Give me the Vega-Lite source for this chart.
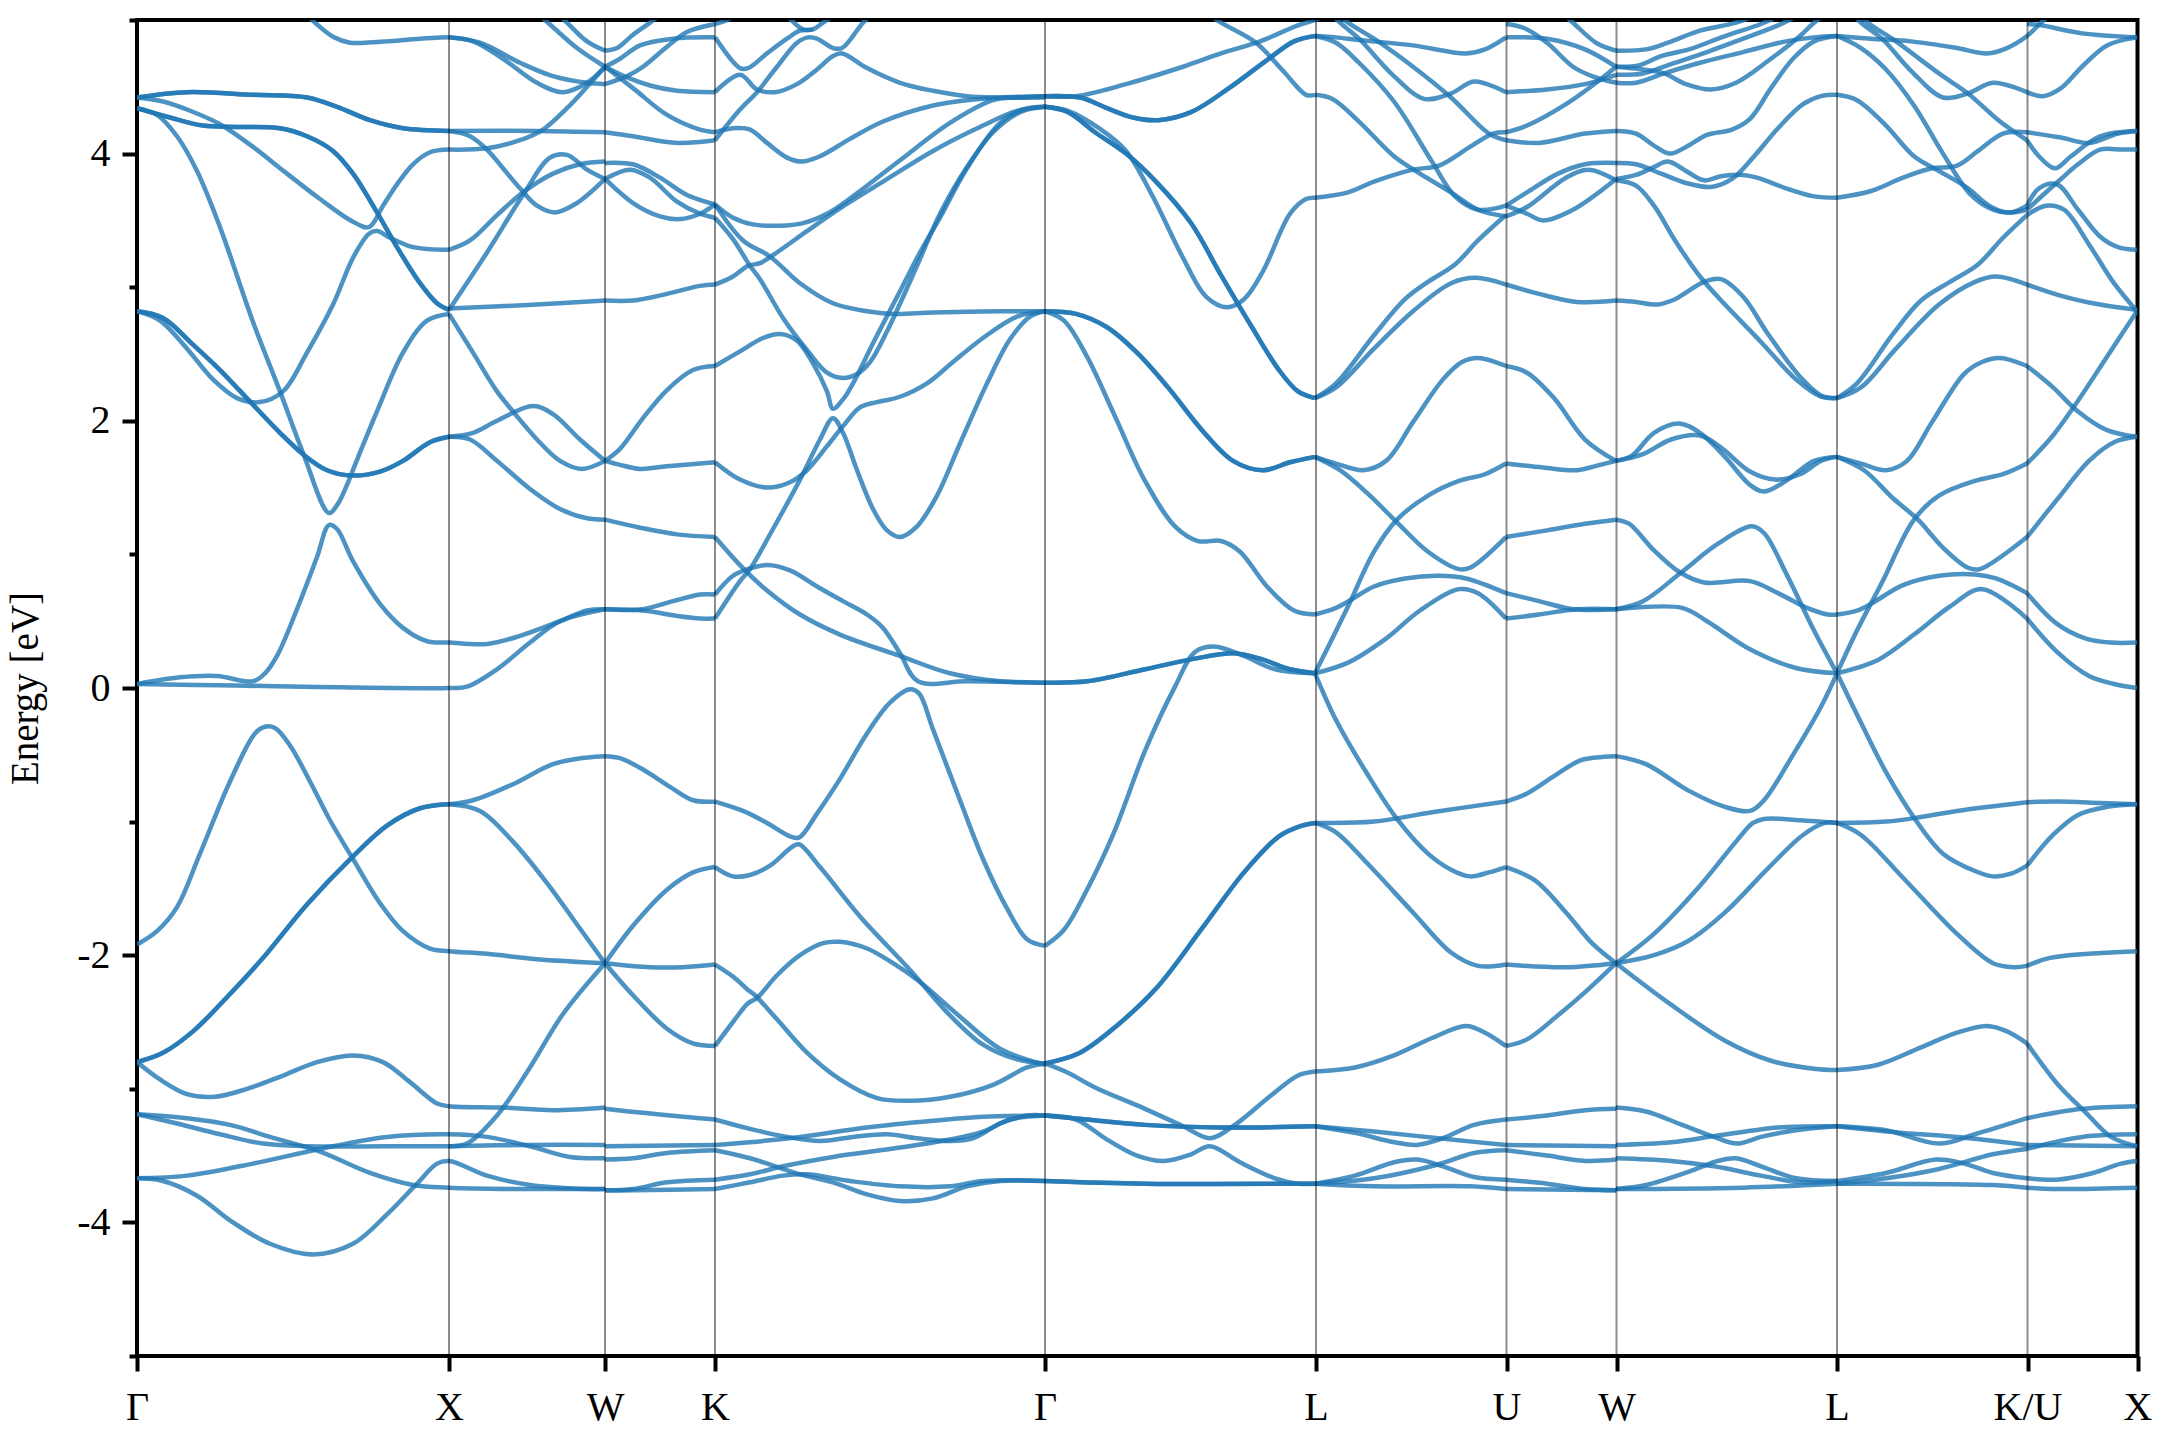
{"$schema":"https://vega.github.io/schema/vega-lite/v6.json","width":2000.5,"height":1336,"autosize":"none","padding":{"left":137,"top":20,"right":22,"bottom":84},"background":"white","config":{"view":{"stroke":"#000","strokeWidth":4},"font":"Liberation Serif"},
"layer":[{"data":{"values":[
{"b":1,"k":170,"e":5.04},{"b":1,"k":178,"e":4.98},{"b":1,"k":196,"e":4.875},{"b":1,"k":213,"e":4.83},{"b":1,"k":228,"e":4.83},{"b":1,"k":250,"e":4.84},{"b":1,"k":283,"e":4.86},{"b":1,"k":312,"e":4.87},
{"b":2,"k":312,"e":4.87},{"b":2,"k":336,"e":4.84},{"b":2,"k":366,"e":4.71},{"b":2,"k":400,"e":4.53},{"b":2,"k":426,"e":4.46},{"b":2,"k":450,"e":4.53},{"b":2,"k":468,"e":4.65},
{"b":3,"k":312,"e":4.87},{"b":3,"k":343,"e":4.83},{"b":3,"k":383,"e":4.68},{"b":3,"k":416,"e":4.58},{"b":3,"k":450,"e":4.53},{"b":3,"k":468,"e":4.52},
{"b":4,"k":420,"e":5.05},{"b":4,"k":430,"e":4.98},{"b":4,"k":450,"e":4.84},{"b":4,"k":468,"e":4.77},
{"b":5,"k":400,"e":5.05},{"b":5,"k":411,"e":4.98},{"b":5,"k":440,"e":4.79},{"b":5,"k":468,"e":4.65},
{"b":6,"k":0,"e":4.42},{"b":6,"k":50,"e":4.46},{"b":6,"k":116,"e":4.44},{"b":6,"k":170,"e":4.42},{"b":6,"k":200,"e":4.35},{"b":6,"k":233,"e":4.25},{"b":6,"k":266,"e":4.19},{"b":6,"k":312,"e":4.17},
{"b":7,"k":0,"e":4.42},{"b":7,"k":50,"e":4.46},{"b":7,"k":116,"e":4.44},{"b":7,"k":170,"e":4.42},{"b":7,"k":200,"e":4.35},{"b":7,"k":233,"e":4.25},{"b":7,"k":266,"e":4.19},{"b":7,"k":312,"e":4.17},
{"b":8,"k":312,"e":4.17},{"b":8,"k":400,"e":4.17},{"b":8,"k":468,"e":4.16},
{"b":9,"k":312,"e":4.17},{"b":9,"k":333,"e":4.13},{"b":9,"k":350,"e":4.03},{"b":9,"k":366,"e":3.89},{"b":9,"k":383,"e":3.74},{"b":9,"k":400,"e":3.61},{"b":9,"k":418,"e":3.56},{"b":9,"k":440,"e":3.63},{"b":9,"k":468,"e":3.81},
{"b":10,"k":0,"e":4.34},{"b":10,"k":33,"e":4.27},{"b":10,"k":66,"e":4.21},{"b":10,"k":100,"e":4.2},{"b":10,"k":143,"e":4.19},{"b":10,"k":170,"e":4.13},{"b":10,"k":196,"e":4.02},{"b":10,"k":216,"e":3.85},{"b":10,"k":240,"e":3.56},{"b":10,"k":260,"e":3.3},{"b":10,"k":283,"e":3.03},{"b":10,"k":300,"e":2.88},{"b":10,"k":312,"e":2.83},
{"b":11,"k":0,"e":4.34},{"b":11,"k":33,"e":4.27},{"b":11,"k":66,"e":4.21},{"b":11,"k":100,"e":4.2},{"b":11,"k":143,"e":4.19},{"b":11,"k":170,"e":4.13},{"b":11,"k":196,"e":4.02},{"b":11,"k":216,"e":3.85},{"b":11,"k":240,"e":3.56},{"b":11,"k":260,"e":3.3},{"b":11,"k":283,"e":3.03},{"b":11,"k":300,"e":2.88},{"b":11,"k":312,"e":2.83},
{"b":12,"k":0,"e":4.42},{"b":12,"k":26,"e":4.39},{"b":12,"k":50,"e":4.33},{"b":12,"k":83,"e":4.22},{"b":12,"k":116,"e":4.05},{"b":12,"k":150,"e":3.85},{"b":12,"k":183,"e":3.66},{"b":12,"k":216,"e":3.49},{"b":12,"k":232,"e":3.45},{"b":12,"k":246,"e":3.61},{"b":12,"k":260,"e":3.77},{"b":12,"k":276,"e":3.92},{"b":12,"k":293,"e":4.01},{"b":12,"k":312,"e":4.03},
{"b":13,"k":312,"e":4.03},{"b":13,"k":350,"e":4.04},{"b":13,"k":383,"e":4.1},{"b":13,"k":406,"e":4.18},{"b":13,"k":430,"e":4.34},{"b":13,"k":450,"e":4.5},{"b":13,"k":468,"e":4.65},
{"b":14,"k":0,"e":4.34},{"b":14,"k":20,"e":4.29},{"b":14,"k":40,"e":4.13},{"b":14,"k":60,"e":3.87},{"b":14,"k":83,"e":3.45},{"b":14,"k":116,"e":2.74},{"b":14,"k":143,"e":2.22},{"b":14,"k":166,"e":1.76},{"b":14,"k":192,"e":1.31},{"b":14,"k":201,"e":1.38},{"b":14,"k":210,"e":1.52},{"b":14,"k":218,"e":1.67},{"b":14,"k":240,"e":2.07},{"b":14,"k":266,"e":2.51},{"b":14,"k":290,"e":2.75},{"b":14,"k":312,"e":2.8},
{"b":15,"k":0,"e":2.82},{"b":15,"k":23,"e":2.75},{"b":15,"k":50,"e":2.54},{"b":15,"k":76,"e":2.31},{"b":15,"k":100,"e":2.17},{"b":15,"k":123,"e":2.14},{"b":15,"k":146,"e":2.22},{"b":15,"k":170,"e":2.51},{"b":15,"k":196,"e":2.87},{"b":15,"k":216,"e":3.22},{"b":15,"k":232,"e":3.4},{"b":15,"k":240,"e":3.42},{"b":15,"k":253,"e":3.37},{"b":15,"k":276,"e":3.3},{"b":15,"k":312,"e":3.28},
{"b":16,"k":312,"e":3.28},{"b":16,"k":333,"e":3.35},{"b":16,"k":360,"e":3.54},{"b":16,"k":386,"e":3.71},{"b":16,"k":416,"e":3.85},{"b":16,"k":443,"e":3.92},{"b":16,"k":468,"e":3.94},
{"b":17,"k":0,"e":2.82},{"b":17,"k":26,"e":2.77},{"b":17,"k":56,"e":2.57},{"b":17,"k":83,"e":2.38},{"b":17,"k":116,"e":2.12},{"b":17,"k":143,"e":1.91},{"b":17,"k":166,"e":1.75},{"b":17,"k":190,"e":1.63},{"b":17,"k":216,"e":1.59},{"b":17,"k":243,"e":1.62},{"b":17,"k":266,"e":1.7},{"b":17,"k":293,"e":1.84},{"b":17,"k":312,"e":1.88},
{"b":18,"k":0,"e":2.82},{"b":18,"k":26,"e":2.77},{"b":18,"k":56,"e":2.57},{"b":18,"k":83,"e":2.38},{"b":18,"k":116,"e":2.12},{"b":18,"k":143,"e":1.91},{"b":18,"k":166,"e":1.75},{"b":18,"k":190,"e":1.63},{"b":18,"k":216,"e":1.59},{"b":18,"k":243,"e":1.62},{"b":18,"k":266,"e":1.7},{"b":18,"k":293,"e":1.84},{"b":18,"k":312,"e":1.88},
{"b":19,"k":312,"e":2.83},{"b":19,"k":350,"e":3.26},{"b":19,"k":386,"e":3.69},{"b":19,"k":413,"e":3.97},{"b":19,"k":430,"e":3.99},{"b":19,"k":450,"e":3.88},{"b":19,"k":468,"e":3.81},
{"b":20,"k":312,"e":2.84},{"b":20,"k":400,"e":2.87},{"b":20,"k":468,"e":2.9},
{"b":21,"k":312,"e":1.88},{"b":21,"k":336,"e":1.91},{"b":21,"k":360,"e":2},{"b":21,"k":396,"e":2.11},{"b":21,"k":416,"e":2.05},{"b":21,"k":443,"e":1.86},{"b":21,"k":468,"e":1.7},
{"b":22,"k":312,"e":1.88},{"b":22,"k":333,"e":1.86},{"b":22,"k":360,"e":1.7},{"b":22,"k":393,"e":1.49},{"b":22,"k":423,"e":1.34},{"b":22,"k":450,"e":1.27},{"b":22,"k":468,"e":1.26},
{"b":23,"k":312,"e":2.8},{"b":23,"k":336,"e":2.51},{"b":23,"k":360,"e":2.22},{"b":23,"k":376,"e":2.07},{"b":23,"k":400,"e":1.86},{"b":23,"k":423,"e":1.7},{"b":23,"k":445,"e":1.64},{"b":23,"k":468,"e":1.7},
{"b":24,"k":0,"e":0.03},{"b":24,"k":43,"e":0.08},{"b":24,"k":80,"e":0.09},{"b":24,"k":116,"e":0.05},{"b":24,"k":128,"e":0.11},{"b":24,"k":140,"e":0.24},{"b":24,"k":160,"e":0.59},{"b":24,"k":180,"e":0.98},{"b":24,"k":192,"e":1.22},{"b":24,"k":200,"e":1.19},{"b":24,"k":216,"e":0.95},{"b":24,"k":243,"e":0.63},{"b":24,"k":266,"e":0.45},{"b":24,"k":290,"e":0.35},{"b":24,"k":312,"e":0.34},{"b":24,"k":350,"e":0.33},{"b":24,"k":383,"e":0.39},{"b":24,"k":423,"e":0.5},{"b":24,"k":450,"e":0.58},{"b":24,"k":468,"e":0.59},
{"b":25,"k":0,"e":0.03},{"b":25,"k":83,"e":0.02},{"b":25,"k":312,"e":0},{"b":25,"k":330,"e":0.01},{"b":25,"k":360,"e":0.14},{"b":25,"k":393,"e":0.34},{"b":25,"k":423,"e":0.5},{"b":25,"k":468,"e":0.59},
{"b":26,"k":0,"e":-1.92},{"b":26,"k":20,"e":-1.82},{"b":26,"k":40,"e":-1.64},{"b":26,"k":63,"e":-1.24},{"b":26,"k":93,"e":-0.7},{"b":26,"k":118,"e":-0.34},{"b":26,"k":128,"e":-0.29},{"b":26,"k":138,"e":-0.3},{"b":26,"k":153,"e":-0.43},{"b":26,"k":173,"e":-0.7},{"b":26,"k":193,"e":-0.99},{"b":26,"k":216,"e":-1.28},{"b":26,"k":243,"e":-1.61},{"b":26,"k":266,"e":-1.82},{"b":26,"k":293,"e":-1.95},{"b":26,"k":312,"e":-1.97},{"b":26,"k":350,"e":-1.99},{"b":26,"k":400,"e":-2.03},{"b":26,"k":468,"e":-2.06},
{"b":27,"k":0,"e":-2.8},{"b":27,"k":26,"e":-2.73},{"b":27,"k":56,"e":-2.57},{"b":27,"k":93,"e":-2.29},{"b":27,"k":126,"e":-2.02},{"b":27,"k":170,"e":-1.62},{"b":27,"k":216,"e":-1.26},{"b":27,"k":250,"e":-1.03},{"b":27,"k":283,"e":-0.9},{"b":27,"k":312,"e":-0.87},
{"b":28,"k":0,"e":-2.8},{"b":28,"k":26,"e":-2.73},{"b":28,"k":56,"e":-2.57},{"b":28,"k":93,"e":-2.29},{"b":28,"k":126,"e":-2.02},{"b":28,"k":170,"e":-1.62},{"b":28,"k":216,"e":-1.26},{"b":28,"k":250,"e":-1.03},{"b":28,"k":283,"e":-0.9},{"b":28,"k":312,"e":-0.87},
{"b":29,"k":312,"e":-0.87},{"b":29,"k":336,"e":-0.84},{"b":29,"k":376,"e":-0.72},{"b":29,"k":416,"e":-0.57},{"b":29,"k":450,"e":-0.52},{"b":29,"k":468,"e":-0.51},
{"b":30,"k":312,"e":-0.87},{"b":30,"k":343,"e":-0.92},{"b":30,"k":376,"e":-1.15},{"b":30,"k":410,"e":-1.46},{"b":30,"k":440,"e":-1.77},{"b":30,"k":468,"e":-2.06},
{"b":31,"k":0,"e":-2.8},{"b":31,"k":23,"e":-2.93},{"b":31,"k":50,"e":-3.04},{"b":31,"k":78,"e":-3.06},{"b":31,"k":110,"e":-3},{"b":31,"k":143,"e":-2.91},{"b":31,"k":180,"e":-2.8},{"b":31,"k":216,"e":-2.75},{"b":31,"k":246,"e":-2.8},{"b":31,"k":273,"e":-2.95},{"b":31,"k":300,"e":-3.11},{"b":31,"k":312,"e":-3.13},{"b":31,"k":366,"e":-3.14},{"b":31,"k":416,"e":-3.16},{"b":31,"k":468,"e":-3.14},
{"b":32,"k":0,"e":-3.19},{"b":32,"k":50,"e":-3.22},{"b":32,"k":93,"e":-3.27},{"b":32,"k":133,"e":-3.36},{"b":32,"k":183,"e":-3.47},{"b":32,"k":233,"e":-3.63},{"b":32,"k":276,"e":-3.72},{"b":32,"k":312,"e":-3.74},{"b":32,"k":383,"e":-3.75},{"b":32,"k":468,"e":-3.75},
{"b":33,"k":0,"e":-3.19},{"b":33,"k":40,"e":-3.26},{"b":33,"k":83,"e":-3.34},{"b":33,"k":126,"e":-3.41},{"b":33,"k":170,"e":-3.43},{"b":33,"k":250,"e":-3.43},{"b":33,"k":312,"e":-3.43},
{"b":34,"k":312,"e":-3.43},{"b":34,"k":330,"e":-3.41},{"b":34,"k":360,"e":-3.2},{"b":34,"k":393,"e":-2.84},{"b":34,"k":426,"e":-2.44},{"b":34,"k":468,"e":-2.06},
{"b":35,"k":312,"e":-3.43},{"b":35,"k":393,"e":-3.42},{"b":35,"k":468,"e":-3.42},
{"b":36,"k":0,"e":-3.67},{"b":36,"k":50,"e":-3.65},{"b":36,"k":116,"e":-3.56},{"b":36,"k":183,"e":-3.45},{"b":36,"k":250,"e":-3.36},{"b":36,"k":312,"e":-3.34},{"b":36,"k":350,"e":-3.36},{"b":36,"k":393,"e":-3.43},{"b":36,"k":433,"e":-3.51},{"b":36,"k":468,"e":-3.52},
{"b":37,"k":0,"e":-3.67},{"b":37,"k":26,"e":-3.69},{"b":37,"k":60,"e":-3.8},{"b":37,"k":96,"e":-4},{"b":37,"k":133,"e":-4.16},{"b":37,"k":176,"e":-4.24},{"b":37,"k":216,"e":-4.16},{"b":37,"k":250,"e":-3.94},{"b":37,"k":280,"e":-3.71},{"b":37,"k":300,"e":-3.56},{"b":37,"k":312,"e":-3.54},{"b":37,"k":350,"e":-3.65},{"b":37,"k":393,"e":-3.72},{"b":37,"k":450,"e":-3.75},{"b":37,"k":468,"e":-3.75},
{"b":38,"k":468,"e":4.77},{"b":38,"k":480,"e":4.79},{"b":38,"k":496,"e":4.89},{"b":38,"k":513,"e":4.98},{"b":38,"k":525,"e":5.05},
{"b":39,"k":468,"e":4.65},{"b":39,"k":483,"e":4.71},{"b":39,"k":503,"e":4.81},{"b":39,"k":536,"e":4.86},{"b":39,"k":578,"e":4.87},
{"b":40,"k":468,"e":4.52},{"b":40,"k":490,"e":4.58},{"b":40,"k":506,"e":4.65},{"b":40,"k":530,"e":4.8},{"b":40,"k":550,"e":4.91},{"b":40,"k":578,"e":4.97},
{"b":41,"k":468,"e":4.65},{"b":41,"k":490,"e":4.57},{"b":41,"k":513,"e":4.51},{"b":41,"k":540,"e":4.47},{"b":41,"k":578,"e":4.46},
{"b":42,"k":468,"e":4.65},{"b":42,"k":496,"e":4.49},{"b":42,"k":530,"e":4.29},{"b":42,"k":563,"e":4.18},{"b":42,"k":578,"e":4.16},
{"b":43,"k":468,"e":4.16},{"b":43,"k":496,"e":4.13},{"b":43,"k":540,"e":4.08},{"b":43,"k":578,"e":4.1},
{"b":44,"k":468,"e":3.93},{"b":44,"k":496,"e":3.92},{"b":44,"k":523,"e":3.82},{"b":44,"k":550,"e":3.69},{"b":44,"k":578,"e":3.62},
{"b":45,"k":468,"e":3.81},{"b":45,"k":493,"e":3.88},{"b":45,"k":513,"e":3.82},{"b":45,"k":540,"e":3.64},{"b":45,"k":563,"e":3.55},{"b":45,"k":578,"e":3.52},
{"b":46,"k":468,"e":3.81},{"b":46,"k":496,"e":3.63},{"b":46,"k":523,"e":3.53},{"b":46,"k":543,"e":3.51},{"b":46,"k":563,"e":3.55},{"b":46,"k":578,"e":3.62},
{"b":47,"k":468,"e":2.9},{"b":47,"k":496,"e":2.9},{"b":47,"k":530,"e":2.95},{"b":47,"k":563,"e":3.01},{"b":47,"k":578,"e":3.02},
{"b":48,"k":468,"e":1.7},{"b":48,"k":483,"e":1.79},{"b":48,"k":506,"e":2.02},{"b":48,"k":530,"e":2.23},{"b":48,"k":556,"e":2.38},{"b":48,"k":578,"e":2.41},
{"b":49,"k":468,"e":1.7},{"b":49,"k":483,"e":1.67},{"b":49,"k":503,"e":1.64},{"b":49,"k":530,"e":1.66},{"b":49,"k":578,"e":1.69},
{"b":50,"k":468,"e":1.26},{"b":50,"k":503,"e":1.2},{"b":50,"k":540,"e":1.15},{"b":50,"k":578,"e":1.13},
{"b":51,"k":468,"e":0.59},{"b":51,"k":506,"e":0.59},{"b":51,"k":536,"e":0.65},{"b":51,"k":563,"e":0.7},{"b":51,"k":578,"e":0.7},
{"b":52,"k":468,"e":0.59},{"b":52,"k":506,"e":0.58},{"b":52,"k":540,"e":0.54},{"b":52,"k":563,"e":0.52},{"b":52,"k":578,"e":0.52},
{"b":53,"k":468,"e":-0.51},{"b":53,"k":483,"e":-0.525},{"b":53,"k":506,"e":-0.61},{"b":53,"k":533,"e":-0.74},{"b":53,"k":556,"e":-0.84},{"b":53,"k":578,"e":-0.85},
{"b":54,"k":468,"e":-2.06},{"b":54,"k":496,"e":-1.78},{"b":54,"k":530,"e":-1.51},{"b":54,"k":556,"e":-1.38},{"b":54,"k":578,"e":-1.34},
{"b":55,"k":468,"e":-2.06},{"b":55,"k":513,"e":-2.09},{"b":55,"k":546,"e":-2.09},{"b":55,"k":578,"e":-2.07},
{"b":56,"k":468,"e":-2.06},{"b":56,"k":496,"e":-2.3},{"b":56,"k":530,"e":-2.55},{"b":56,"k":556,"e":-2.66},{"b":56,"k":578,"e":-2.68},
{"b":57,"k":468,"e":-3.15},{"b":57,"k":506,"e":-3.18},{"b":57,"k":563,"e":-3.22},{"b":57,"k":578,"e":-3.23},
{"b":58,"k":468,"e":-3.43},{"b":58,"k":578,"e":-3.42},
{"b":59,"k":468,"e":-3.53},{"b":59,"k":496,"e":-3.52},{"b":59,"k":530,"e":-3.48},{"b":59,"k":578,"e":-3.46},
{"b":60,"k":468,"e":-3.76},{"b":60,"k":496,"e":-3.75},{"b":60,"k":530,"e":-3.7},{"b":60,"k":578,"e":-3.68},
{"b":61,"k":468,"e":-3.76},{"b":61,"k":496,"e":-3.76},{"b":61,"k":578,"e":-3.75},
{"b":62,"k":578,"e":4.87},{"b":62,"k":603,"e":4.64},{"b":62,"k":611,"e":4.64},{"b":62,"k":630,"e":4.75},{"b":62,"k":650,"e":4.86},{"b":62,"k":663,"e":4.92},{"b":62,"k":676,"e":4.93},{"b":62,"k":686,"e":4.98},{"b":62,"k":700,"e":5.05},
{"b":63,"k":648,"e":5.05},{"b":63,"k":666,"e":4.93},{"b":63,"k":676,"e":4.93},
{"b":64,"k":578,"e":4.97},{"b":64,"k":590,"e":5},{"b":64,"k":600,"e":5.05},
{"b":65,"k":578,"e":4.46},{"b":65,"k":603,"e":4.59},{"b":65,"k":620,"e":4.48},{"b":65,"k":638,"e":4.46},{"b":65,"k":660,"e":4.52},{"b":65,"k":680,"e":4.63},{"b":65,"k":696,"e":4.73},{"b":65,"k":705,"e":4.75},{"b":65,"k":730,"e":4.64},{"b":65,"k":763,"e":4.53},{"b":65,"k":796,"e":4.47},{"b":65,"k":830,"e":4.43},{"b":65,"k":863,"e":4.42},{"b":65,"k":908,"e":4.42},
{"b":66,"k":578,"e":4.1},{"b":66,"k":603,"e":4.33},{"b":66,"k":620,"e":4.46},{"b":66,"k":640,"e":4.65},{"b":66,"k":660,"e":4.83},{"b":66,"k":671,"e":4.87},{"b":66,"k":680,"e":4.86},{"b":66,"k":696,"e":4.79},{"b":66,"k":705,"e":4.79},{"b":66,"k":726,"e":4.98},{"b":66,"k":740,"e":5.08},
{"b":67,"k":578,"e":4.16},{"b":67,"k":596,"e":4.19},{"b":67,"k":613,"e":4.18},{"b":67,"k":630,"e":4.08},{"b":67,"k":650,"e":3.97},{"b":67,"k":665,"e":3.94},{"b":67,"k":683,"e":3.98},{"b":67,"k":713,"e":4.11},{"b":67,"k":746,"e":4.24},{"b":67,"k":796,"e":4.36},{"b":67,"k":830,"e":4.4},{"b":67,"k":863,"e":4.42},{"b":67,"k":908,"e":4.43},
{"b":68,"k":578,"e":3.62},{"b":68,"k":596,"e":3.52},{"b":68,"k":616,"e":3.47},{"b":68,"k":643,"e":3.46},{"b":68,"k":666,"e":3.48},{"b":68,"k":690,"e":3.55},{"b":68,"k":716,"e":3.68},{"b":68,"k":763,"e":3.95},{"b":68,"k":813,"e":4.23},{"b":68,"k":856,"e":4.4},{"b":68,"k":880,"e":4.42},{"b":68,"k":908,"e":4.43},
{"b":69,"k":578,"e":3.02},{"b":69,"k":596,"e":3.08},{"b":69,"k":611,"e":3.16},{"b":69,"k":623,"e":3.18},{"b":69,"k":636,"e":3.24},{"b":69,"k":670,"e":3.42},{"b":69,"k":703,"e":3.59},{"b":69,"k":746,"e":3.79},{"b":69,"k":796,"e":4.02},{"b":69,"k":846,"e":4.21},{"b":69,"k":880,"e":4.32},{"b":69,"k":908,"e":4.35},
{"b":70,"k":578,"e":3.52},{"b":70,"k":596,"e":3.36},{"b":70,"k":613,"e":3.16},{"b":70,"k":623,"e":3.06},{"b":70,"k":646,"e":2.77},{"b":70,"k":670,"e":2.53},{"b":70,"k":690,"e":2.36},{"b":70,"k":706,"e":2.32},{"b":70,"k":720,"e":2.35},{"b":70,"k":733,"e":2.44},{"b":70,"k":750,"e":2.67},{"b":70,"k":780,"e":3.16},{"b":70,"k":803,"e":3.55},{"b":70,"k":830,"e":3.9},{"b":70,"k":856,"e":4.16},{"b":70,"k":883,"e":4.31},{"b":70,"k":908,"e":4.35},
{"b":71,"k":578,"e":3.62},{"b":71,"k":606,"e":3.35},{"b":71,"k":633,"e":3.23},{"b":71,"k":663,"e":3.03},{"b":71,"k":696,"e":2.88},{"b":71,"k":730,"e":2.82},{"b":71,"k":756,"e":2.8},{"b":71,"k":796,"e":2.81},{"b":71,"k":863,"e":2.82},{"b":71,"k":908,"e":2.82},
{"b":72,"k":578,"e":2.41},{"b":72,"k":603,"e":2.52},{"b":72,"k":626,"e":2.62},{"b":72,"k":643,"e":2.65},{"b":72,"k":660,"e":2.6},{"b":72,"k":676,"e":2.43},{"b":72,"k":690,"e":2.22},{"b":72,"k":696,"e":2.09},{"b":72,"k":706,"e":2.16},{"b":72,"k":716,"e":2.28},{"b":72,"k":736,"e":2.58},{"b":72,"k":763,"e":2.97},{"b":72,"k":783,"e":3.26},{"b":72,"k":803,"e":3.52},{"b":72,"k":830,"e":3.89},{"b":72,"k":863,"e":4.23},{"b":72,"k":886,"e":4.33},{"b":72,"k":908,"e":4.35},
{"b":73,"k":578,"e":0.52},{"b":73,"k":603,"e":0.8},{"b":73,"k":613,"e":0.89},{"b":73,"k":636,"e":1.19},{"b":73,"k":663,"e":1.56},{"b":73,"k":683,"e":1.86},{"b":73,"k":696,"e":2.02},{"b":73,"k":706,"e":1.91},{"b":73,"k":720,"e":1.63},{"b":73,"k":736,"e":1.34},{"b":73,"k":750,"e":1.18},{"b":73,"k":763,"e":1.13},{"b":73,"k":780,"e":1.21},{"b":73,"k":800,"e":1.44},{"b":73,"k":823,"e":1.83},{"b":73,"k":850,"e":2.28},{"b":73,"k":873,"e":2.61},{"b":73,"k":893,"e":2.78},{"b":73,"k":908,"e":2.82},
{"b":74,"k":578,"e":1.69},{"b":74,"k":603,"e":1.56},{"b":74,"k":630,"e":1.5},{"b":74,"k":653,"e":1.54},{"b":74,"k":670,"e":1.63},{"b":74,"k":690,"e":1.81},{"b":74,"k":706,"e":1.96},{"b":74,"k":723,"e":2.1},{"b":74,"k":740,"e":2.14},{"b":74,"k":763,"e":2.18},{"b":74,"k":790,"e":2.28},{"b":74,"k":816,"e":2.44},{"b":74,"k":846,"e":2.62},{"b":74,"k":880,"e":2.78},{"b":74,"k":908,"e":2.82},
{"b":75,"k":578,"e":1.13},{"b":75,"k":603,"e":0.92},{"b":75,"k":630,"e":0.73},{"b":75,"k":663,"e":0.55},{"b":75,"k":703,"e":0.4},{"b":75,"k":763,"e":0.24},{"b":75,"k":813,"e":0.11},{"b":75,"k":863,"e":0.05},{"b":75,"k":908,"e":0.04},
{"b":76,"k":578,"e":0.7},{"b":76,"k":596,"e":0.84},{"b":76,"k":611,"e":0.89},{"b":76,"k":630,"e":0.92},{"b":76,"k":653,"e":0.88},{"b":76,"k":680,"e":0.76},{"b":76,"k":706,"e":0.65},{"b":76,"k":730,"e":0.55},{"b":76,"k":746,"e":0.45},{"b":76,"k":763,"e":0.26},{"b":76,"k":781,"e":0.05},{"b":76,"k":830,"e":0.05},{"b":76,"k":908,"e":0.04},
{"b":77,"k":578,"e":-0.85},{"b":77,"k":606,"e":-0.92},{"b":77,"k":630,"e":-1.01},{"b":77,"k":653,"e":-1.11},{"b":77,"k":662,"e":-1.12},{"b":77,"k":680,"e":-0.94},{"b":77,"k":703,"e":-0.68},{"b":77,"k":730,"e":-0.34},{"b":77,"k":753,"e":-0.11},{"b":77,"k":773,"e":-0.01},{"b":77,"k":782,"e":-0.04},{"b":77,"k":796,"e":-0.31},{"b":77,"k":823,"e":-0.84},{"b":77,"k":846,"e":-1.28},{"b":77,"k":870,"e":-1.65},{"b":77,"k":890,"e":-1.88},{"b":77,"k":908,"e":-1.93},
{"b":78,"k":578,"e":-1.34},{"b":78,"k":596,"e":-1.41},{"b":78,"k":613,"e":-1.4},{"b":78,"k":633,"e":-1.33},{"b":78,"k":655,"e":-1.19},{"b":78,"k":662,"e":-1.17},{"b":78,"k":683,"e":-1.34},{"b":78,"k":723,"e":-1.71},{"b":78,"k":773,"e":-2.11},{"b":78,"k":813,"e":-2.45},{"b":78,"k":846,"e":-2.67},{"b":78,"k":880,"e":-2.78},{"b":78,"k":908,"e":-2.81},
{"b":79,"k":578,"e":-2.07},{"b":79,"k":596,"e":-2.16},{"b":79,"k":611,"e":-2.26},{"b":79,"k":618,"e":-2.3},{"b":79,"k":640,"e":-2.48},{"b":79,"k":670,"e":-2.73},{"b":79,"k":703,"e":-2.93},{"b":79,"k":740,"e":-3.07},{"b":79,"k":773,"e":-3.09},{"b":79,"k":813,"e":-3.06},{"b":79,"k":856,"e":-2.97},{"b":79,"k":890,"e":-2.84},{"b":79,"k":908,"e":-2.81},
{"b":80,"k":578,"e":-2.68},{"b":80,"k":596,"e":-2.5},{"b":80,"k":611,"e":-2.36},{"b":80,"k":620,"e":-2.32},{"b":80,"k":640,"e":-2.15},{"b":80,"k":663,"e":-2},{"b":80,"k":686,"e":-1.91},{"b":80,"k":703,"e":-1.9},{"b":80,"k":730,"e":-1.95},{"b":80,"k":756,"e":-2.06},{"b":80,"k":783,"e":-2.2},{"b":80,"k":823,"e":-2.46},{"b":80,"k":863,"e":-2.7},{"b":80,"k":908,"e":-2.82},
{"b":81,"k":578,"e":-3.23},{"b":81,"k":613,"e":-3.3},{"b":81,"k":650,"e":-3.36},{"b":81,"k":683,"e":-3.39},{"b":81,"k":716,"e":-3.36},{"b":81,"k":750,"e":-3.34},{"b":81,"k":780,"e":-3.37},{"b":81,"k":813,"e":-3.39},{"b":81,"k":836,"e":-3.37},{"b":81,"k":863,"e":-3.26},{"b":81,"k":890,"e":-3.2},{"b":81,"k":908,"e":-3.2},
{"b":82,"k":578,"e":-3.42},{"b":82,"k":613,"e":-3.4},{"b":82,"k":663,"e":-3.36},{"b":82,"k":730,"e":-3.29},{"b":82,"k":796,"e":-3.24},{"b":82,"k":846,"e":-3.21},{"b":82,"k":908,"e":-3.2},
{"b":83,"k":578,"e":-3.46},{"b":83,"k":613,"e":-3.52},{"b":83,"k":663,"e":-3.64},{"b":83,"k":696,"e":-3.7},{"b":83,"k":730,"e":-3.79},{"b":83,"k":763,"e":-3.84},{"b":83,"k":796,"e":-3.82},{"b":83,"k":830,"e":-3.73},{"b":83,"k":863,"e":-3.69},{"b":83,"k":908,"e":-3.69},
{"b":84,"k":578,"e":-3.68},{"b":84,"k":613,"e":-3.64},{"b":84,"k":646,"e":-3.58},{"b":84,"k":696,"e":-3.51},{"b":84,"k":763,"e":-3.44},{"b":84,"k":813,"e":-3.38},{"b":84,"k":846,"e":-3.32},{"b":84,"k":873,"e":-3.23},{"b":84,"k":908,"e":-3.2},
{"b":85,"k":578,"e":-3.75},{"b":85,"k":613,"e":-3.7},{"b":85,"k":646,"e":-3.65},{"b":85,"k":670,"e":-3.64},{"b":85,"k":713,"e":-3.69},{"b":85,"k":763,"e":-3.73},{"b":85,"k":813,"e":-3.73},{"b":85,"k":846,"e":-3.69},{"b":85,"k":908,"e":-3.69},
{"b":86,"k":908,"e":4.43},{"b":86,"k":939,"e":4.43},{"b":86,"k":989,"e":4.52},{"b":86,"k":1046,"e":4.65},{"b":86,"k":1084,"e":4.75},{"b":86,"k":1123,"e":4.84},{"b":86,"k":1161,"e":4.96},{"b":86,"k":1178,"e":5},{"b":86,"k":1190,"e":5.05},
{"b":87,"k":908,"e":4.43},{"b":87,"k":943,"e":4.42},{"b":87,"k":970,"e":4.34},{"b":87,"k":996,"e":4.27},{"b":87,"k":1021,"e":4.25},{"b":87,"k":1054,"e":4.31},{"b":87,"k":1092,"e":4.49},{"b":87,"k":1130,"e":4.7},{"b":87,"k":1157,"e":4.84},{"b":87,"k":1178,"e":4.88},
{"b":88,"k":908,"e":4.43},{"b":88,"k":943,"e":4.42},{"b":88,"k":970,"e":4.34},{"b":88,"k":996,"e":4.27},{"b":88,"k":1021,"e":4.25},{"b":88,"k":1054,"e":4.31},{"b":88,"k":1092,"e":4.49},{"b":88,"k":1130,"e":4.7},{"b":88,"k":1157,"e":4.84},{"b":88,"k":1178,"e":4.88},
{"b":89,"k":1070,"e":5.05},{"b":89,"k":1084,"e":4.98},{"b":89,"k":1119,"e":4.83},{"b":89,"k":1146,"e":4.62},{"b":89,"k":1169,"e":4.44},{"b":89,"k":1178,"e":4.44},
{"b":90,"k":908,"e":4.35},{"b":90,"k":931,"e":4.31},{"b":90,"k":958,"e":4.16},{"b":90,"k":989,"e":4},{"b":90,"k":1019,"e":3.79},{"b":90,"k":1054,"e":3.48},{"b":90,"k":1084,"e":3.09},{"b":90,"k":1115,"e":2.7},{"b":90,"k":1142,"e":2.38},{"b":90,"k":1161,"e":2.22},{"b":90,"k":1178,"e":2.17},
{"b":91,"k":908,"e":4.35},{"b":91,"k":931,"e":4.31},{"b":91,"k":958,"e":4.16},{"b":91,"k":989,"e":4},{"b":91,"k":1019,"e":3.79},{"b":91,"k":1054,"e":3.48},{"b":91,"k":1084,"e":3.09},{"b":91,"k":1115,"e":2.7},{"b":91,"k":1142,"e":2.38},{"b":91,"k":1161,"e":2.22},{"b":91,"k":1178,"e":2.17},
{"b":92,"k":908,"e":4.35},{"b":92,"k":931,"e":4.32},{"b":92,"k":962,"e":4.19},{"b":92,"k":989,"e":4.02},{"b":92,"k":1015,"e":3.69},{"b":92,"k":1046,"e":3.22},{"b":92,"k":1069,"e":2.93},{"b":92,"k":1090,"e":2.85},{"b":92,"k":1107,"e":2.91},{"b":92,"k":1126,"e":3.12},{"b":92,"k":1153,"e":3.55},{"b":92,"k":1169,"e":3.66},{"b":92,"k":1178,"e":3.67},
{"b":93,"k":908,"e":2.82},{"b":93,"k":939,"e":2.8},{"b":93,"k":970,"e":2.7},{"b":93,"k":1000,"e":2.51},{"b":93,"k":1031,"e":2.25},{"b":93,"k":1065,"e":1.93},{"b":93,"k":1096,"e":1.7},{"b":93,"k":1126,"e":1.63},{"b":93,"k":1153,"e":1.69},{"b":93,"k":1178,"e":1.73},
{"b":94,"k":908,"e":2.82},{"b":94,"k":939,"e":2.8},{"b":94,"k":970,"e":2.7},{"b":94,"k":1000,"e":2.51},{"b":94,"k":1031,"e":2.25},{"b":94,"k":1065,"e":1.93},{"b":94,"k":1096,"e":1.7},{"b":94,"k":1126,"e":1.63},{"b":94,"k":1153,"e":1.69},{"b":94,"k":1178,"e":1.73},
{"b":95,"k":908,"e":2.82},{"b":95,"k":927,"e":2.75},{"b":95,"k":950,"e":2.48},{"b":95,"k":977,"e":2.05},{"b":95,"k":1008,"e":1.55},{"b":95,"k":1038,"e":1.21},{"b":95,"k":1061,"e":1.1},{"b":95,"k":1084,"e":1.1},{"b":95,"k":1103,"e":1.02},{"b":95,"k":1130,"e":0.76},{"b":95,"k":1157,"e":0.58},{"b":95,"k":1178,"e":0.55},
{"b":96,"k":908,"e":0.04},{"b":96,"k":950,"e":0.05},{"b":96,"k":1008,"e":0.14},{"b":96,"k":1058,"e":0.22},{"b":96,"k":1096,"e":0.26},{"b":96,"k":1123,"e":0.22},{"b":96,"k":1153,"e":0.14},{"b":96,"k":1178,"e":0.11},
{"b":97,"k":908,"e":0.04},{"b":97,"k":950,"e":0.05},{"b":97,"k":1008,"e":0.14},{"b":97,"k":1058,"e":0.22},{"b":97,"k":1096,"e":0.26},{"b":97,"k":1123,"e":0.22},{"b":97,"k":1153,"e":0.14},{"b":97,"k":1178,"e":0.11},
{"b":98,"k":908,"e":-1.93},{"b":98,"k":927,"e":-1.81},{"b":98,"k":950,"e":-1.51},{"b":98,"k":977,"e":-1.08},{"b":98,"k":1008,"e":-0.47},{"b":98,"k":1038,"e":0.01},{"b":98,"k":1058,"e":0.27},{"b":98,"k":1077,"e":0.31},{"b":98,"k":1107,"e":0.24},{"b":98,"k":1138,"e":0.14},{"b":98,"k":1178,"e":0.11},
{"b":99,"k":908,"e":-2.81},{"b":99,"k":943,"e":-2.73},{"b":99,"k":981,"e":-2.52},{"b":99,"k":1019,"e":-2.25},{"b":99,"k":1065,"e":-1.8},{"b":99,"k":1107,"e":-1.38},{"b":99,"k":1142,"e":-1.11},{"b":99,"k":1165,"e":-1.03},{"b":99,"k":1178,"e":-1.01},
{"b":100,"k":908,"e":-2.81},{"b":100,"k":943,"e":-2.73},{"b":100,"k":981,"e":-2.52},{"b":100,"k":1019,"e":-2.25},{"b":100,"k":1065,"e":-1.8},{"b":100,"k":1107,"e":-1.38},{"b":100,"k":1142,"e":-1.11},{"b":100,"k":1165,"e":-1.03},{"b":100,"k":1178,"e":-1.01},
{"b":101,"k":908,"e":-2.81},{"b":101,"k":931,"e":-2.88},{"b":101,"k":958,"e":-2.99},{"b":101,"k":1008,"e":-3.15},{"b":101,"k":1046,"e":-3.28},{"b":101,"k":1073,"e":-3.37},{"b":101,"k":1096,"e":-3.28},{"b":101,"k":1134,"e":-3.05},{"b":101,"k":1161,"e":-2.9},{"b":101,"k":1178,"e":-2.87},
{"b":102,"k":908,"e":-3.2},{"b":102,"k":950,"e":-3.23},{"b":102,"k":1008,"e":-3.27},{"b":102,"k":1084,"e":-3.29},{"b":102,"k":1178,"e":-3.28},
{"b":103,"k":908,"e":-3.2},{"b":103,"k":950,"e":-3.23},{"b":103,"k":1008,"e":-3.27},{"b":103,"k":1084,"e":-3.29},{"b":103,"k":1178,"e":-3.28},
{"b":104,"k":908,"e":-3.2},{"b":104,"k":939,"e":-3.23},{"b":104,"k":970,"e":-3.38},{"b":104,"k":1000,"e":-3.5},{"b":104,"k":1027,"e":-3.54},{"b":104,"k":1054,"e":-3.49},{"b":104,"k":1073,"e":-3.43},{"b":104,"k":1103,"e":-3.55},{"b":104,"k":1138,"e":-3.67},{"b":104,"k":1161,"e":-3.71},{"b":104,"k":1178,"e":-3.71},
{"b":105,"k":908,"e":-3.69},{"b":105,"k":1008,"e":-3.71},{"b":105,"k":1178,"e":-3.71},
{"b":106,"k":908,"e":-3.69},{"b":106,"k":1008,"e":-3.71},{"b":106,"k":1178,"e":-3.71},
{"b":107,"k":1178,"e":4.88},{"b":107,"k":1199,"e":4.87},{"b":107,"k":1222,"e":4.85},{"b":107,"k":1276,"e":4.81},{"b":107,"k":1329,"e":4.75},{"b":107,"k":1348,"e":4.78},{"b":107,"k":1369,"e":4.87},
{"b":108,"k":1178,"e":4.88},{"b":108,"k":1199,"e":4.83},{"b":108,"k":1222,"e":4.68},{"b":108,"k":1257,"e":4.39},{"b":108,"k":1295,"e":3.94},{"b":108,"k":1318,"e":3.68},{"b":108,"k":1341,"e":3.58},{"b":108,"k":1369,"e":3.61},
{"b":109,"k":1190,"e":5.08},{"b":109,"k":1203,"e":4.98},{"b":109,"k":1222,"e":4.86},{"b":109,"k":1257,"e":4.58},{"b":109,"k":1287,"e":4.41},{"b":109,"k":1314,"e":4.45},{"b":109,"k":1337,"e":4.54},{"b":109,"k":1369,"e":4.46},
{"b":110,"k":1195,"e":5.08},{"b":110,"k":1211,"e":4.98},{"b":110,"k":1237,"e":4.86},{"b":110,"k":1276,"e":4.65},{"b":110,"k":1314,"e":4.42},{"b":110,"k":1352,"e":4.15},{"b":110,"k":1369,"e":4.1},
{"b":111,"k":1178,"e":4.44},{"b":111,"k":1195,"e":4.41},{"b":111,"k":1222,"e":4.24},{"b":111,"k":1257,"e":3.98},{"b":111,"k":1283,"e":3.85},{"b":111,"k":1314,"e":3.71},{"b":111,"k":1341,"e":3.58},{"b":111,"k":1369,"e":3.53},
{"b":112,"k":1178,"e":3.67},{"b":112,"k":1211,"e":3.71},{"b":112,"k":1237,"e":3.79},{"b":112,"k":1276,"e":3.88},{"b":112,"k":1302,"e":3.91},{"b":112,"k":1333,"e":4.05},{"b":112,"k":1356,"e":4.15},{"b":112,"k":1369,"e":4.16},
{"b":113,"k":1178,"e":2.17},{"b":113,"k":1199,"e":2.28},{"b":113,"k":1237,"e":2.64},{"b":113,"k":1268,"e":2.91},{"b":113,"k":1291,"e":3.04},{"b":113,"k":1318,"e":3.17},{"b":113,"k":1341,"e":3.35},{"b":113,"k":1369,"e":3.54},
{"b":114,"k":1178,"e":2.17},{"b":114,"k":1199,"e":2.25},{"b":114,"k":1237,"e":2.54},{"b":114,"k":1276,"e":2.82},{"b":114,"k":1314,"e":3.03},{"b":114,"k":1339,"e":3.07},{"b":114,"k":1369,"e":3.02},
{"b":115,"k":1178,"e":1.73},{"b":115,"k":1199,"e":1.68},{"b":115,"k":1226,"e":1.63},{"b":115,"k":1249,"e":1.7},{"b":115,"k":1276,"e":1.99},{"b":115,"k":1306,"e":2.31},{"b":115,"k":1325,"e":2.44},{"b":115,"k":1341,"e":2.47},{"b":115,"k":1369,"e":2.41},
{"b":116,"k":1178,"e":1.73},{"b":116,"k":1203,"e":1.63},{"b":116,"k":1230,"e":1.46},{"b":116,"k":1260,"e":1.24},{"b":116,"k":1291,"e":1.02},{"b":116,"k":1322,"e":0.89},{"b":116,"k":1333,"e":0.9},{"b":116,"k":1369,"e":1.13},
{"b":117,"k":1178,"e":0.55},{"b":117,"k":1199,"e":0.6},{"b":117,"k":1214,"e":0.66},{"b":117,"k":1237,"e":0.76},{"b":117,"k":1268,"e":0.82},{"b":117,"k":1302,"e":0.84},{"b":117,"k":1329,"e":0.82},{"b":117,"k":1369,"e":0.71},
{"b":118,"k":1178,"e":0.11},{"b":118,"k":1211,"e":0.61},{"b":118,"k":1237,"e":1.02},{"b":118,"k":1260,"e":1.26},{"b":118,"k":1291,"e":1.44},{"b":118,"k":1322,"e":1.55},{"b":118,"k":1348,"e":1.6},{"b":118,"k":1369,"e":1.68},
{"b":119,"k":1178,"e":0.11},{"b":119,"k":1211,"e":0.19},{"b":119,"k":1249,"e":0.37},{"b":119,"k":1283,"e":0.58},{"b":119,"k":1322,"e":0.74},{"b":119,"k":1341,"e":0.71},{"b":119,"k":1369,"e":0.52},
{"b":120,"k":1178,"e":0.11},{"b":120,"k":1199,"e":-0.24},{"b":120,"k":1230,"e":-0.64},{"b":120,"k":1260,"e":-0.98},{"b":120,"k":1291,"e":-1.24},{"b":120,"k":1314,"e":-1.36},{"b":120,"k":1333,"e":-1.41},{"b":120,"k":1352,"e":-1.38},{"b":120,"k":1369,"e":-1.34},
{"b":121,"k":1178,"e":-1.01},{"b":121,"k":1237,"e":-1},{"b":121,"k":1295,"e":-0.93},{"b":121,"k":1369,"e":-0.85},
{"b":122,"k":1178,"e":-1.01},{"b":122,"k":1199,"e":-1.08},{"b":122,"k":1230,"e":-1.31},{"b":122,"k":1276,"e":-1.68},{"b":122,"k":1314,"e":-1.98},{"b":122,"k":1341,"e":-2.08},{"b":122,"k":1369,"e":-2.07},
{"b":123,"k":1178,"e":-2.87},{"b":123,"k":1218,"e":-2.84},{"b":123,"k":1257,"e":-2.75},{"b":123,"k":1295,"e":-2.62},{"b":123,"k":1329,"e":-2.53},{"b":123,"k":1348,"e":-2.58},{"b":123,"k":1369,"e":-2.68},
{"b":124,"k":1178,"e":-3.28},{"b":124,"k":1237,"e":-3.32},{"b":124,"k":1314,"e":-3.38},{"b":124,"k":1369,"e":-3.42},
{"b":125,"k":1178,"e":-3.28},{"b":125,"k":1218,"e":-3.33},{"b":125,"k":1257,"e":-3.4},{"b":125,"k":1280,"e":-3.42},{"b":125,"k":1306,"e":-3.37},{"b":125,"k":1337,"e":-3.27},{"b":125,"k":1369,"e":-3.23},
{"b":126,"k":1178,"e":-3.71},{"b":126,"k":1218,"e":-3.65},{"b":126,"k":1257,"e":-3.55},{"b":126,"k":1280,"e":-3.53},{"b":126,"k":1306,"e":-3.58},{"b":126,"k":1337,"e":-3.66},{"b":126,"k":1369,"e":-3.68},
{"b":127,"k":1178,"e":-3.71},{"b":127,"k":1237,"e":-3.73},{"b":127,"k":1333,"e":-3.73},{"b":127,"k":1369,"e":-3.75},
{"b":128,"k":1178,"e":-3.71},{"b":128,"k":1237,"e":-3.67},{"b":128,"k":1299,"e":-3.57},{"b":128,"k":1337,"e":-3.48},{"b":128,"k":1369,"e":-3.46},
{"b":129,"k":1369,"e":4.87},{"b":129,"k":1410,"e":4.86},{"b":129,"k":1448,"e":4.78},{"b":129,"k":1479,"e":4.65},
{"b":130,"k":1369,"e":4.97},{"b":130,"k":1387,"e":4.94},{"b":130,"k":1410,"e":4.83},{"b":130,"k":1436,"e":4.65},{"b":130,"k":1455,"e":4.58},{"b":130,"k":1479,"e":4.53},
{"b":131,"k":1369,"e":4.46},{"b":131,"k":1410,"e":4.48},{"b":131,"k":1448,"e":4.52},{"b":131,"k":1479,"e":4.59},
{"b":132,"k":1369,"e":4.16},{"b":132,"k":1390,"e":4.21},{"b":132,"k":1429,"e":4.37},{"b":132,"k":1459,"e":4.53},{"b":132,"k":1479,"e":4.65},
{"b":133,"k":1425,"e":5.05},{"b":133,"k":1436,"e":4.98},{"b":133,"k":1459,"e":4.83},{"b":133,"k":1479,"e":4.77},
{"b":134,"k":1369,"e":4.1},{"b":134,"k":1402,"e":4.08},{"b":134,"k":1448,"e":4.15},{"b":134,"k":1479,"e":4.17},
{"b":135,"k":1369,"e":3.61},{"b":135,"k":1390,"e":3.71},{"b":135,"k":1421,"e":3.85},{"b":135,"k":1448,"e":3.92},{"b":135,"k":1479,"e":3.93},
{"b":136,"k":1369,"e":3.53},{"b":136,"k":1390,"e":3.6},{"b":136,"k":1429,"e":3.82},{"b":136,"k":1452,"e":3.88},{"b":136,"k":1479,"e":3.8},
{"b":137,"k":1369,"e":3.61},{"b":137,"k":1390,"e":3.55},{"b":137,"k":1406,"e":3.5},{"b":137,"k":1436,"e":3.58},{"b":137,"k":1479,"e":3.81},
{"b":138,"k":1369,"e":3.02},{"b":138,"k":1402,"e":2.95},{"b":138,"k":1440,"e":2.89},{"b":138,"k":1479,"e":2.9},
{"b":139,"k":1369,"e":2.41},{"b":139,"k":1390,"e":2.36},{"b":139,"k":1417,"e":2.17},{"b":139,"k":1448,"e":1.86},{"b":139,"k":1479,"e":1.7},
{"b":140,"k":1369,"e":1.68},{"b":140,"k":1406,"e":1.65},{"b":140,"k":1440,"e":1.63},{"b":140,"k":1463,"e":1.67},{"b":140,"k":1479,"e":1.7},
{"b":141,"k":1369,"e":1.13},{"b":141,"k":1410,"e":1.18},{"b":141,"k":1448,"e":1.23},{"b":141,"k":1479,"e":1.26},
{"b":142,"k":1369,"e":0.71},{"b":142,"k":1402,"e":0.65},{"b":142,"k":1436,"e":0.59},{"b":142,"k":1479,"e":0.59},
{"b":143,"k":1369,"e":0.52},{"b":143,"k":1402,"e":0.55},{"b":143,"k":1440,"e":0.59},{"b":143,"k":1479,"e":0.59},
{"b":144,"k":1369,"e":-0.85},{"b":144,"k":1390,"e":-0.79},{"b":144,"k":1417,"e":-0.66},{"b":144,"k":1444,"e":-0.54},{"b":144,"k":1467,"e":-0.515},{"b":144,"k":1479,"e":-0.51},
{"b":145,"k":1369,"e":-1.34},{"b":145,"k":1398,"e":-1.44},{"b":145,"k":1429,"e":-1.68},{"b":145,"k":1455,"e":-1.91},{"b":145,"k":1479,"e":-2.06},
{"b":146,"k":1369,"e":-2.07},{"b":146,"k":1429,"e":-2.09},{"b":146,"k":1479,"e":-2.06},
{"b":147,"k":1369,"e":-2.68},{"b":147,"k":1390,"e":-2.63},{"b":147,"k":1421,"e":-2.45},{"b":147,"k":1452,"e":-2.25},{"b":147,"k":1479,"e":-2.06},
{"b":148,"k":1369,"e":-3.23},{"b":148,"k":1410,"e":-3.2},{"b":148,"k":1448,"e":-3.16},{"b":148,"k":1479,"e":-3.15},
{"b":149,"k":1369,"e":-3.42},{"b":149,"k":1479,"e":-3.43},
{"b":150,"k":1369,"e":-3.46},{"b":150,"k":1410,"e":-3.5},{"b":150,"k":1448,"e":-3.54},{"b":150,"k":1479,"e":-3.53},
{"b":151,"k":1369,"e":-3.68},{"b":151,"k":1410,"e":-3.71},{"b":151,"k":1448,"e":-3.75},{"b":151,"k":1479,"e":-3.76},
{"b":152,"k":1369,"e":-3.75},{"b":152,"k":1479,"e":-3.76},
{"b":153,"k":1479,"e":4.77},{"b":153,"k":1509,"e":4.78},{"b":153,"k":1531,"e":4.83},{"b":153,"k":1563,"e":4.92},{"b":153,"k":1599,"e":4.98},{"b":153,"k":1620,"e":5.04},
{"b":154,"k":1479,"e":4.65},{"b":154,"k":1502,"e":4.66},{"b":154,"k":1524,"e":4.73},{"b":154,"k":1552,"e":4.78},{"b":154,"k":1588,"e":4.88},{"b":154,"k":1624,"e":4.97},{"b":154,"k":1641,"e":5.03},
{"b":155,"k":1479,"e":4.59},{"b":155,"k":1506,"e":4.6},{"b":155,"k":1534,"e":4.67},{"b":155,"k":1570,"e":4.76},{"b":155,"k":1606,"e":4.86},{"b":155,"k":1641,"e":4.96},{"b":155,"k":1660,"e":5.03},
{"b":156,"k":1479,"e":4.53},{"b":156,"k":1499,"e":4.53},{"b":156,"k":1527,"e":4.6},{"b":156,"k":1563,"e":4.68},{"b":156,"k":1606,"e":4.76},{"b":156,"k":1649,"e":4.84},{"b":156,"k":1677,"e":4.87},{"b":156,"k":1700,"e":4.88},
{"b":157,"k":1479,"e":4.65},{"b":157,"k":1506,"e":4.63},{"b":157,"k":1527,"e":4.6},{"b":157,"k":1549,"e":4.52},{"b":157,"k":1574,"e":4.48},{"b":157,"k":1599,"e":4.53},{"b":157,"k":1634,"e":4.71},{"b":157,"k":1663,"e":4.88},{"b":157,"k":1677,"e":4.98},{"b":157,"k":1690,"e":5.05},
{"b":158,"k":1479,"e":4.17},{"b":158,"k":1499,"e":4.15},{"b":158,"k":1517,"e":4.06},{"b":158,"k":1533,"e":4},{"b":158,"k":1549,"e":4.05},{"b":158,"k":1570,"e":4.14},{"b":158,"k":1595,"e":4.18},{"b":158,"k":1613,"e":4.26},{"b":158,"k":1634,"e":4.49},{"b":158,"k":1656,"e":4.71},{"b":158,"k":1677,"e":4.84},{"b":158,"k":1700,"e":4.88},
{"b":159,"k":1479,"e":3.93},{"b":159,"k":1499,"e":3.92},{"b":159,"k":1524,"e":3.85},{"b":159,"k":1549,"e":3.78},{"b":159,"k":1574,"e":3.75},{"b":159,"k":1595,"e":3.81},{"b":159,"k":1616,"e":3.97},{"b":159,"k":1641,"e":4.19},{"b":159,"k":1666,"e":4.37},{"b":159,"k":1684,"e":4.43},{"b":159,"k":1700,"e":4.44},
{"b":160,"k":1479,"e":3.81},{"b":160,"k":1499,"e":3.84},{"b":160,"k":1517,"e":3.9},{"b":160,"k":1531,"e":3.94},{"b":160,"k":1549,"e":3.87},{"b":160,"k":1567,"e":3.8},{"b":160,"k":1584,"e":3.83},{"b":160,"k":1606,"e":3.84},{"b":160,"k":1620,"e":3.82},{"b":160,"k":1649,"e":3.74},{"b":160,"k":1677,"e":3.68},{"b":160,"k":1700,"e":3.67},
{"b":161,"k":1479,"e":3.8},{"b":161,"k":1499,"e":3.76},{"b":161,"k":1517,"e":3.61},{"b":161,"k":1538,"e":3.35},{"b":161,"k":1563,"e":3.08},{"b":161,"k":1588,"e":2.87},{"b":161,"k":1624,"e":2.59},{"b":161,"k":1659,"e":2.31},{"b":161,"k":1684,"e":2.18},{"b":161,"k":1700,"e":2.17},
{"b":162,"k":1479,"e":2.9},{"b":162,"k":1499,"e":2.89},{"b":162,"k":1520,"e":2.87},{"b":162,"k":1538,"e":2.91},{"b":162,"k":1567,"e":3.04},{"b":162,"k":1584,"e":3.06},{"b":162,"k":1606,"e":2.93},{"b":162,"k":1631,"e":2.65},{"b":162,"k":1663,"e":2.33},{"b":162,"k":1684,"e":2.19},{"b":162,"k":1700,"e":2.17},
{"b":163,"k":1479,"e":1.7},{"b":163,"k":1495,"e":1.74},{"b":163,"k":1517,"e":1.91},{"b":163,"k":1542,"e":1.98},{"b":163,"k":1563,"e":1.91},{"b":163,"k":1588,"e":1.73},{"b":163,"k":1613,"e":1.52},{"b":163,"k":1627,"e":1.47},{"b":163,"k":1649,"e":1.55},{"b":163,"k":1677,"e":1.7},{"b":163,"k":1700,"e":1.73},
{"b":164,"k":1479,"e":1.7},{"b":164,"k":1506,"e":1.75},{"b":164,"k":1534,"e":1.86},{"b":164,"k":1563,"e":1.89},{"b":164,"k":1584,"e":1.8},{"b":164,"k":1613,"e":1.62},{"b":164,"k":1638,"e":1.56},{"b":164,"k":1663,"e":1.6},{"b":164,"k":1684,"e":1.7},{"b":164,"k":1700,"e":1.73},
{"b":165,"k":1479,"e":1.26},{"b":165,"k":1492,"e":1.23},{"b":165,"k":1517,"e":1.03},{"b":165,"k":1542,"e":0.87},{"b":165,"k":1567,"e":0.79},{"b":165,"k":1613,"e":0.8},{"b":165,"k":1641,"e":0.71},{"b":165,"k":1670,"e":0.6},{"b":165,"k":1691,"e":0.55},{"b":165,"k":1700,"e":0.55},
{"b":166,"k":1479,"e":0.59},{"b":166,"k":1506,"e":0.65},{"b":166,"k":1545,"e":0.87},{"b":166,"k":1581,"e":1.08},{"b":166,"k":1615,"e":1.21},{"b":166,"k":1627,"e":1.16},{"b":166,"k":1649,"e":0.86},{"b":166,"k":1677,"e":0.43},{"b":166,"k":1700,"e":0.11},
{"b":167,"k":1479,"e":0.59},{"b":167,"k":1545,"e":0.6},{"b":167,"k":1570,"e":0.5},{"b":167,"k":1613,"e":0.29},{"b":167,"k":1659,"e":0.15},{"b":167,"k":1700,"e":0.11},
{"b":168,"k":1479,"e":-0.51},{"b":168,"k":1509,"e":-0.57},{"b":168,"k":1552,"e":-0.77},{"b":168,"k":1588,"e":-0.89},{"b":168,"k":1613,"e":-0.92},{"b":168,"k":1627,"e":-0.84},{"b":168,"k":1656,"e":-0.5},{"b":168,"k":1684,"e":-0.14},{"b":168,"k":1700,"e":0.11},
{"b":169,"k":1479,"e":-2.06},{"b":169,"k":1517,"e":-1.84},{"b":169,"k":1563,"e":-1.48},{"b":169,"k":1599,"e":-1.15},{"b":169,"k":1616,"e":-1.01},{"b":169,"k":1627,"e":-0.98},{"b":169,"k":1663,"e":-0.99},{"b":169,"k":1700,"e":-1.01},
{"b":170,"k":1479,"e":-2.06},{"b":170,"k":1517,"e":-2},{"b":170,"k":1552,"e":-1.89},{"b":170,"k":1588,"e":-1.68},{"b":170,"k":1631,"e":-1.35},{"b":170,"k":1666,"e":-1.1},{"b":170,"k":1688,"e":-1.01},{"b":170,"k":1700,"e":-1.01},
{"b":171,"k":1479,"e":-2.06},{"b":171,"k":1534,"e":-2.37},{"b":171,"k":1588,"e":-2.64},{"b":171,"k":1634,"e":-2.79},{"b":171,"k":1677,"e":-2.85},{"b":171,"k":1700,"e":-2.86},
{"b":172,"k":1479,"e":-3.14},{"b":172,"k":1509,"e":-3.17},{"b":172,"k":1545,"e":-3.27},{"b":172,"k":1577,"e":-3.36},{"b":172,"k":1600,"e":-3.41},{"b":172,"k":1624,"e":-3.36},{"b":172,"k":1659,"e":-3.31},{"b":172,"k":1700,"e":-3.28},
{"b":173,"k":1479,"e":-3.42},{"b":173,"k":1534,"e":-3.4},{"b":173,"k":1581,"e":-3.35},{"b":173,"k":1641,"e":-3.29},{"b":173,"k":1700,"e":-3.28},
{"b":174,"k":1479,"e":-3.52},{"b":174,"k":1534,"e":-3.54},{"b":174,"k":1577,"e":-3.58},{"b":174,"k":1624,"e":-3.65},{"b":174,"k":1663,"e":-3.7},{"b":174,"k":1700,"e":-3.69},
{"b":175,"k":1479,"e":-3.75},{"b":175,"k":1509,"e":-3.72},{"b":175,"k":1552,"e":-3.62},{"b":175,"k":1581,"e":-3.54},{"b":175,"k":1599,"e":-3.52},{"b":175,"k":1624,"e":-3.58},{"b":175,"k":1659,"e":-3.67},{"b":175,"k":1700,"e":-3.69},
{"b":176,"k":1479,"e":-3.75},{"b":176,"k":1606,"e":-3.74},{"b":176,"k":1700,"e":-3.71},
{"b":177,"k":1700,"e":4.88},{"b":177,"k":1734,"e":4.86},{"b":177,"k":1774,"e":4.84},{"b":177,"k":1820,"e":4.79},{"b":177,"k":1850,"e":4.75},{"b":177,"k":1870,"e":4.79},{"b":177,"k":1890,"e":4.88},{"b":177,"k":1904,"e":4.98},{"b":177,"k":1915,"e":5.05},
{"b":178,"k":1700,"e":4.88},{"b":178,"k":1724,"e":4.79},{"b":178,"k":1749,"e":4.63},{"b":178,"k":1777,"e":4.36},{"b":178,"k":1806,"e":4},{"b":178,"k":1834,"e":3.69},{"b":178,"k":1856,"e":3.58},{"b":178,"k":1874,"e":3.56},{"b":178,"k":1890,"e":3.61},
{"b":179,"k":1712,"e":5.08},{"b":179,"k":1724,"e":4.98},{"b":179,"k":1745,"e":4.86},{"b":179,"k":1774,"e":4.62},{"b":179,"k":1806,"e":4.42},{"b":179,"k":1831,"e":4.45},{"b":179,"k":1856,"e":4.53},{"b":179,"k":1890,"e":4.46},
{"b":180,"k":1718,"e":5.08},{"b":180,"k":1731,"e":4.98},{"b":180,"k":1759,"e":4.84},{"b":180,"k":1802,"e":4.6},{"b":180,"k":1831,"e":4.45},{"b":180,"k":1863,"e":4.24},{"b":180,"k":1890,"e":4.1},
{"b":181,"k":1700,"e":4.44},{"b":181,"k":1720,"e":4.4},{"b":181,"k":1749,"e":4.21},{"b":181,"k":1777,"e":3.98},{"b":181,"k":1802,"e":3.87},{"b":181,"k":1831,"e":3.74},{"b":181,"k":1852,"e":3.61},{"b":181,"k":1870,"e":3.56},{"b":181,"k":1890,"e":3.58},
{"b":182,"k":1700,"e":3.67},{"b":182,"k":1734,"e":3.72},{"b":182,"k":1766,"e":3.82},{"b":182,"k":1795,"e":3.89},{"b":182,"k":1820,"e":3.91},{"b":182,"k":1841,"e":4.02},{"b":182,"k":1866,"e":4.15},{"b":182,"k":1890,"e":4.16},
{"b":183,"k":1700,"e":2.17},{"b":183,"k":1720,"e":2.28},{"b":183,"k":1756,"e":2.65},{"b":183,"k":1784,"e":2.9},{"b":183,"k":1813,"e":3.04},{"b":183,"k":1841,"e":3.17},{"b":183,"k":1866,"e":3.37},{"b":183,"k":1890,"e":3.54},
{"b":184,"k":1700,"e":2.17},{"b":184,"k":1724,"e":2.25},{"b":184,"k":1759,"e":2.54},{"b":184,"k":1802,"e":2.87},{"b":184,"k":1838,"e":3.04},{"b":184,"k":1859,"e":3.08},{"b":184,"k":1890,"e":3.02},
{"b":185,"k":1700,"e":1.73},{"b":185,"k":1724,"e":1.68},{"b":185,"k":1749,"e":1.63},{"b":185,"k":1770,"e":1.7},{"b":185,"k":1795,"e":1.99},{"b":185,"k":1827,"e":2.35},{"b":185,"k":1845,"e":2.44},{"b":185,"k":1863,"e":2.47},{"b":185,"k":1890,"e":2.41},
{"b":186,"k":1700,"e":1.73},{"b":186,"k":1727,"e":1.63},{"b":186,"k":1756,"e":1.42},{"b":186,"k":1781,"e":1.26},{"b":186,"k":1806,"e":1.05},{"b":186,"k":1831,"e":0.9},{"b":186,"k":1843,"e":0.89},{"b":186,"k":1890,"e":1.13},
{"b":187,"k":1700,"e":0.55},{"b":187,"k":1720,"e":0.58},{"b":187,"k":1734,"e":0.63},{"b":187,"k":1766,"e":0.77},{"b":187,"k":1802,"e":0.84},{"b":187,"k":1838,"e":0.85},{"b":187,"k":1859,"e":0.82},{"b":187,"k":1890,"e":0.71},
{"b":188,"k":1700,"e":0.11},{"b":188,"k":1720,"e":0.43},{"b":188,"k":1745,"e":0.79},{"b":188,"k":1777,"e":1.26},{"b":188,"k":1802,"e":1.44},{"b":188,"k":1838,"e":1.55},{"b":188,"k":1866,"e":1.6},{"b":188,"k":1890,"e":1.68},
{"b":189,"k":1700,"e":0.11},{"b":189,"k":1741,"e":0.21},{"b":189,"k":1777,"e":0.4},{"b":189,"k":1813,"e":0.61},{"b":189,"k":1845,"e":0.74},{"b":189,"k":1890,"e":0.52},
{"b":190,"k":1700,"e":0.11},{"b":190,"k":1724,"e":-0.26},{"b":190,"k":1749,"e":-0.63},{"b":190,"k":1777,"e":-0.97},{"b":190,"k":1806,"e":-1.24},{"b":190,"k":1838,"e":-1.37},{"b":190,"k":1856,"e":-1.41},{"b":190,"k":1874,"e":-1.39},{"b":190,"k":1890,"e":-1.33},
{"b":191,"k":1700,"e":-1.01},{"b":191,"k":1749,"e":-1},{"b":191,"k":1781,"e":-0.97},{"b":191,"k":1820,"e":-0.92},{"b":191,"k":1890,"e":-0.855},
{"b":192,"k":1700,"e":-1.01},{"b":192,"k":1724,"e":-1.1},{"b":192,"k":1766,"e":-1.42},{"b":192,"k":1820,"e":-1.84},{"b":192,"k":1856,"e":-2.06},{"b":192,"k":1877,"e":-2.09},{"b":192,"k":1890,"e":-2.08},
{"b":193,"k":1700,"e":-2.86},{"b":193,"k":1741,"e":-2.82},{"b":193,"k":1784,"e":-2.69},{"b":193,"k":1820,"e":-2.58},{"b":193,"k":1850,"e":-2.53},{"b":193,"k":1870,"e":-2.57},{"b":193,"k":1890,"e":-2.66},
{"b":194,"k":1700,"e":-3.28},{"b":194,"k":1749,"e":-3.31},{"b":194,"k":1802,"e":-3.41},{"b":194,"k":1838,"e":-3.34},{"b":194,"k":1890,"e":-3.22},
{"b":195,"k":1700,"e":-3.28},{"b":195,"k":1766,"e":-3.33},{"b":195,"k":1820,"e":-3.36},{"b":195,"k":1890,"e":-3.42},
{"b":196,"k":1700,"e":-3.69},{"b":196,"k":1749,"e":-3.63},{"b":196,"k":1799,"e":-3.53},{"b":196,"k":1827,"e":-3.56},{"b":196,"k":1856,"e":-3.63},{"b":196,"k":1890,"e":-3.67},
{"b":197,"k":1700,"e":-3.71},{"b":197,"k":1749,"e":-3.67},{"b":197,"k":1802,"e":-3.6},{"b":197,"k":1856,"e":-3.49},{"b":197,"k":1890,"e":-3.45},
{"b":198,"k":1700,"e":-3.71},{"b":198,"k":1856,"e":-3.72},{"b":198,"k":1890,"e":-3.74},
{"b":199,"k":1890,"e":4.97},{"b":199,"k":1904,"e":4.96},{"b":199,"k":1945,"e":4.9},{"b":199,"k":2000,"e":4.87},
{"b":200,"k":1890,"e":4.46},{"b":200,"k":1906,"e":4.43},{"b":200,"k":1924,"e":4.49},{"b":200,"k":1945,"e":4.65},{"b":200,"k":1970,"e":4.81},{"b":200,"k":2000,"e":4.87},
{"b":201,"k":1890,"e":4.1},{"b":201,"k":1902,"e":3.98},{"b":201,"k":1918,"e":3.89},{"b":201,"k":1934,"e":3.98},{"b":201,"k":1963,"e":4.13},{"b":201,"k":2000,"e":4.17},
{"b":202,"k":1890,"e":4.16},{"b":202,"k":1924,"e":4.12},{"b":202,"k":1952,"e":4.08},{"b":202,"k":1981,"e":4.15},{"b":202,"k":2000,"e":4.17},
{"b":203,"k":1890,"e":3.61},{"b":203,"k":1902,"e":3.74},{"b":203,"k":1920,"e":3.77},{"b":203,"k":1941,"e":3.58},{"b":203,"k":1963,"e":3.38},{"b":203,"k":1981,"e":3.3},{"b":203,"k":2000,"e":3.28},
{"b":204,"k":1890,"e":3.58},{"b":204,"k":1906,"e":3.69},{"b":204,"k":1924,"e":3.81},{"b":204,"k":1941,"e":3.92},{"b":204,"k":1963,"e":4.03},{"b":204,"k":1985,"e":4.03},{"b":204,"k":2000,"e":4.03},
{"b":205,"k":1890,"e":3.54},{"b":205,"k":1909,"e":3.61},{"b":205,"k":1927,"e":3.58},{"b":205,"k":1952,"e":3.32},{"b":205,"k":1977,"e":3.03},{"b":205,"k":2000,"e":2.82},
{"b":206,"k":1890,"e":3.02},{"b":206,"k":1927,"e":2.93},{"b":206,"k":1963,"e":2.87},{"b":206,"k":2000,"e":2.83},
{"b":207,"k":1890,"e":2.41},{"b":207,"k":1916,"e":2.25},{"b":207,"k":1941,"e":2.07},{"b":207,"k":1970,"e":1.93},{"b":207,"k":2000,"e":1.88},
{"b":208,"k":1890,"e":1.68},{"b":208,"k":1916,"e":1.89},{"b":208,"k":1941,"e":2.15},{"b":208,"k":1970,"e":2.48},{"b":208,"k":2000,"e":2.82},
{"b":209,"k":1890,"e":1.13},{"b":209,"k":1920,"e":1.41},{"b":209,"k":1952,"e":1.7},{"b":209,"k":1977,"e":1.84},{"b":209,"k":2000,"e":1.88},
{"b":210,"k":1890,"e":0.71},{"b":210,"k":1920,"e":0.48},{"b":210,"k":1949,"e":0.37},{"b":210,"k":1974,"e":0.34},{"b":210,"k":2000,"e":0.34},
{"b":211,"k":1890,"e":0.52},{"b":211,"k":1920,"e":0.27},{"b":211,"k":1952,"e":0.09},{"b":211,"k":1977,"e":0.03},{"b":211,"k":2000,"e":0},
{"b":212,"k":1890,"e":-0.855},{"b":212,"k":1920,"e":-0.85},{"b":212,"k":1963,"e":-0.86},{"b":212,"k":2000,"e":-0.87},
{"b":213,"k":1890,"e":-1.33},{"b":213,"k":1916,"e":-1.1},{"b":213,"k":1941,"e":-0.95},{"b":213,"k":1970,"e":-0.89},{"b":213,"k":2000,"e":-0.87},
{"b":214,"k":1890,"e":-2.08},{"b":214,"k":1913,"e":-2.02},{"b":214,"k":2000,"e":-1.97},
{"b":215,"k":1890,"e":-2.66},{"b":215,"k":1920,"e":-2.96},{"b":215,"k":1949,"e":-3.18},{"b":215,"k":1974,"e":-3.36},{"b":215,"k":2000,"e":-3.43},
{"b":216,"k":1890,"e":-3.22},{"b":216,"k":1945,"e":-3.15},{"b":216,"k":2000,"e":-3.13},
{"b":217,"k":1890,"e":-3.42},{"b":217,"k":2000,"e":-3.43},
{"b":218,"k":1890,"e":-3.45},{"b":218,"k":1945,"e":-3.36},{"b":218,"k":2000,"e":-3.34},
{"b":219,"k":1890,"e":-3.67},{"b":219,"k":1920,"e":-3.68},{"b":219,"k":1956,"e":-3.63},{"b":219,"k":1984,"e":-3.56},{"b":219,"k":2000,"e":-3.54},
{"b":220,"k":1890,"e":-3.74},{"b":220,"k":1920,"e":-3.75},{"b":220,"k":2000,"e":-3.74}
]},
"mark":{"type":"line","stroke":"#1f77b4","strokeWidth":4.5,"opacity":0.8,"interpolate":"catmull-rom","clip":true},
"encoding":{"detail":{"field":"b","type":"nominal"},
"x":{"field":"k","type":"quantitative","scale":{"domain":[0,2000.5],"nice":false,"zero":false},"axis":{"title":null,"grid":false,"domain":false,"values":[0,312,468,578,908,1179,1369.5,1479.5,1700,1890.5,2000.5],"tickSize":15,"tickWidth":4,"tickColor":"#000","labelFontSize":40,"labelFont":"Liberation Serif","labelColor":"#000","labelPadding":16,"labelFlush":false,"labelOverlap":false,"labelExpr":"datum.value==0||datum.value==908?'Γ':datum.value==312||datum.value==2000.5?'X':datum.value==468||datum.value==1479.5?'W':datum.value==578?'K':datum.value==1179||datum.value==1700?'L':datum.value==1369.5?'U':'K/U'"}},
"y":{"field":"e","type":"quantitative","scale":{"domain":[-5,5],"nice":false,"zero":false},"axis":{"title":"Energy [eV]","titleFont":"Liberation Serif","titleFontSize":39,"titleFontWeight":"normal","titleColor":"#000","titlePadding":31,"grid":false,"domain":false,"values":[-5,-4,-3,-2,-1,0,1,2,3,4,5],"tickWidth":4,"tickColor":"#000","tickSize":{"condition":{"test":"datum.value%2!=0","value":8},"value":15},"labelFontSize":40,"labelFont":"Liberation Serif","labelColor":"#000","labelPadding":12,"labelFlush":false,"labelOverlap":false,"labelExpr":"datum.value%2==0?''+datum.value:''"}}}},
{"data":{"values":[{"k":312,"p":"X"},{"k":468,"p":"W"},{"k":578,"p":"K"},{"k":908,"p":"Γ"},{"k":1179,"p":"L"},{"k":1369.5,"p":"U"},{"k":1479.5,"p":"W"},{"k":1700,"p":"L"},{"k":1890.5,"p":"K/U"}]},
"mark":{"type":"rule","stroke":"#000","strokeWidth":2,"opacity":0.45},
"encoding":{"x":{"field":"k","type":"quantitative"}}}]}
